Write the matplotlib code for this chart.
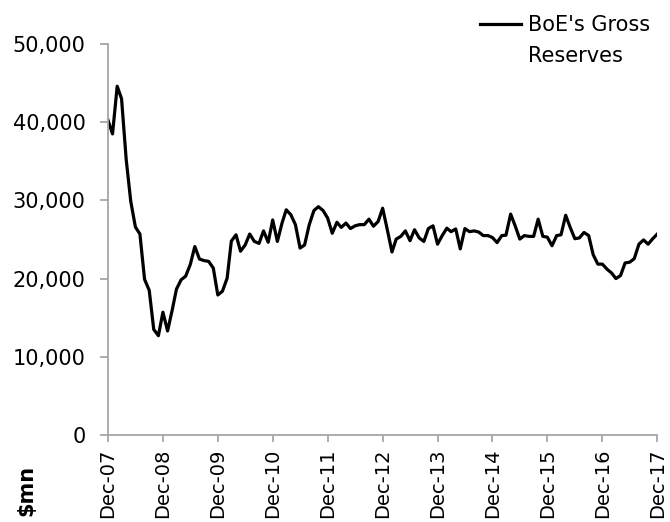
import numpy as np
import pandas as pd
import matplotlib
matplotlib.use("Agg")
import matplotlib.pyplot as plt
import matplotlib.dates as mdates
from matplotlib.ticker import FuncFormatter

plt.rcParams['font.family'] = ['DejaVu Sans']

# monthly gross reserves, $mn, Dec-07 .. Dec-17
r2007 = [40300]
r2008 = [38500, 44600, 43000, 35200, 29900, 26600, 25700, 19900, 18500, 13500, 12700, 15700]
r2009 = [13300, 16000, 18650, 19850, 20300, 21800, 24100, 22500, 22300, 22200, 21350, 17900]
r2010 = [18400, 20050, 24800, 25600, 23500, 24300, 25700, 24750, 24500, 26100, 24650, 27500]
r2011 = [24750, 27100, 28800, 28150, 26900, 23900, 24300, 26900, 28700, 29200, 28700, 27750]
r2012 = [25800, 27200, 26550, 27100, 26400, 26750, 26900, 26900, 27600, 26700, 27300, 29000]
r2013 = [26250, 23400, 25050, 25400, 26100, 24850, 26250, 25200, 24750, 26400, 26750, 24400]
r2014 = [25500, 26450, 26000, 26350, 23800, 26400, 26000, 26100, 25950, 25500, 25500, 25250]
r2015 = [24600, 25500, 25550, 28250, 26750, 25050, 25500, 25400, 25400, 27600, 25400, 25300]
r2016 = [24200, 25500, 25600, 28100, 26550, 25100, 25200, 25900, 25500, 23050, 21850, 21850]
r2017 = [21200, 20700, 20000, 20400, 22000, 22100, 22550, 24400, 24950, 24400, 25100, 25700]

reserves = r2007 + r2008 + r2009 + r2010 + r2011 + r2012 + r2013 + r2014 + r2015 + r2016 + r2017
dates = pd.date_range("2007-12-01", periods=len(reserves), freq="MS")
tick_dates = pd.date_range("2007-12-01", "2017-12-01", freq="12MS")

fig = plt.figure(figsize=(6.7, 5.22), dpi=100)
ax = fig.add_axes([0.161, 0.1667, 0.82, 0.749])

ax.plot(dates, reserves, color="black", lw=2.3, label="BoE's Gross")

ax.set_xlim(dates[0], dates[-1])
ax.set_ylim(0, 50000)
ax.set_yticks(np.arange(0, 50001, 10000))
ax.yaxis.set_major_formatter(FuncFormatter(lambda v, p: f"{int(v):,}"))
ax.set_xticks(tick_dates)
ax.xaxis.set_major_formatter(mdates.DateFormatter("%b-%y"))
plt.setp(ax.get_xticklabels(), rotation=90)

for s in ["top", "right"]:
    ax.spines[s].set_visible(False)
for s in ["left", "bottom"]:
    ax.spines[s].set_color("#a6a6a6")
    ax.spines[s].set_linewidth(1.3)
ax.tick_params(axis="both", colors="#a6a6a6", labelcolor="black", width=1.3)
ax.tick_params(axis="x", length=5, pad=5, labelsize=14)
ax.tick_params(axis="y", length=6, pad=10, labelsize=15)

fig.text(0.04, 0.06, "$mn", rotation=90, fontsize=15, fontweight="bold", ha="center", va="center")

leg = fig.legend(loc="center left", bbox_to_anchor=(0.716, 0.952), frameon=False, fontsize=15,
                 handlelength=2.0, handletextpad=0.33, borderpad=0, borderaxespad=0)
fig.canvas.draw()
t = leg.get_texts()[0]
bb = t.get_window_extent().transformed(fig.transFigure.inverted())
fig.text(bb.x0, bb.y0 - 31 / 522, "Reserves", fontsize=15, ha="left", va="bottom")

fig.savefig("out.png", dpi=100)
